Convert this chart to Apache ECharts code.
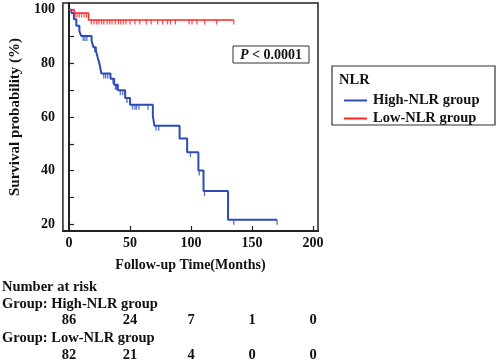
<!DOCTYPE html>
<html><head><meta charset="utf-8">
<script src="https://cdn.jsdelivr.net/npm/echarts@6/dist/echarts.min.js"></script>
<style>html,body{margin:0;padding:0;background:#fff}#c{width:498px;height:361px}</style>
</head><body><div id="c"></div>
<script>
// ---- data ----
const highTimes = [0, 2, 4, 6, 8.5, 10, 18.5, 20, 22, 23.5, 25, 26.5, 34, 37, 40, 46, 50, 68.7, 70, 90.6, 96.8, 106, 110.2, 130.3, 170.5];
const highSurv  = [100, 98.8, 96.4, 94.0, 92.0, 90.2, 88.4, 86.0, 84.8, 82.2, 79.8, 76.2, 74.3, 72.0, 70.0, 67.1, 64.6, 60.4, 56.7, 52.0, 46.9, 40.1, 32.4, 21.7, 21.7];
const lowTimes  = [0, 4.4, 16, 135];
const lowSurv   = [100, 98.8, 96.2, 96.2];
const highCensor = [11.6, 13, 14.6, 21, 28.5, 30, 31.7, 36, 38, 39, 42, 44, 47.5, 52, 54, 55.3, 57.4, 64.7, 71.3, 73.5, 99.5, 106.7, 111, 135, 170.5];
const lowCensor  = [5, 6.6, 8.4, 10.3, 12.4, 14.3, 18.3, 20.5, 22.6, 24.5, 26.7, 28.5, 31.2, 33.3, 35.2, 37.9, 40.6, 42.4, 44.6, 46.7, 50, 54, 58, 63.3, 67.3, 72.7, 76.7, 80.7, 83.1, 87.1, 98.4, 100.8, 104.8, 111.2, 120.9, 135];
const riskTimes = [0, 50, 100, 150, 200];
const riskHigh  = [86, 24, 7, 1, 0];
const riskLow   = [82, 21, 4, 0, 0];
const xTicks = [0, 50, 100, 150, 200];
const yTicks = [20, 30, 40, 50, 60, 70, 80, 90, 100];
const yLabels = [20, 40, 60, 80, 100];
const groupNames = ['High-NLR group', 'Low-NLR group'];

// ---- helpers ----
function stepAt(times, surv, t) {
  let s = surv[0];
  for (let i = 0; i < times.length; i++) { if (times[i] <= t) s = surv[i]; }
  return s;
}
const FONT = "'Liberation Serif','Times New Roman',serif";
const BLUE = '#2a4cb4', RED = '#ff2626', INK = '#111';

const chart = echarts.init(document.getElementById('c'), null, {renderer: 'canvas'});
const option = {
  animation: false,
  backgroundColor: '#fff',
  grid: {left: 58, top: 3, right: 180, bottom: 130, show: true, borderColor: '#222', borderWidth: 1.5, backgroundColor: 'transparent'},
  xAxis: {
    type: 'value', min: -5, max: 204,
    name: 'Follow-up Time(Months)', nameLocation: 'middle', nameGap: 27,
    nameTextStyle: {fontFamily: FONT, fontWeight: 'bold', fontSize: 14, color: INK},
    axisLine: {show: true, lineStyle: {color: '#222', width: 2}},
    axisTick: {show: true, inside: true, length: 5, customValues: xTicks, lineStyle: {color: '#222', width: 1.2}},
    axisLabel: {customValues: xTicks, margin: 5, fontFamily: FONT, fontWeight: 'bold', fontSize: 14, color: INK},
    splitLine: {show: false}
  },
  yAxis: {
    type: 'value', min: 17.5, max: 102.5,
    name: 'Survival probability (%)', nameLocation: 'middle', nameGap: 37,
    nameTextStyle: {fontFamily: FONT, fontWeight: 'bold', fontSize: 15, color: INK},
    axisLine: {show: true, lineStyle: {color: '#222', width: 2}},
    axisTick: {show: true, inside: true, length: 5, customValues: yTicks, lineStyle: {color: '#222', width: 1.2}},
    axisLabel: {customValues: yLabels, margin: 8, fontFamily: FONT, fontWeight: 'bold', fontSize: 14, color: INK},
    splitLine: {show: false}
  },
  legend: {
    orient: 'vertical', left: 339, top: 88, itemWidth: 23, itemHeight: 2, itemGap: 3, icon: 'rect',
    data: groupNames,
    textStyle: {fontFamily: FONT, fontWeight: 'bold', fontSize: 14.5, color: INK, lineHeight: 14, padding: [0, 0, 0, 1]}
  },
  series: [
    {name: groupNames[0], type: 'line', step: 'end', showSymbol: false, color: BLUE,
     lineStyle: {color: BLUE, width: 2}, data: highTimes.map((t, i) => [t, highSurv[i]]), z: 3},
    {name: groupNames[1], type: 'line', step: 'end', showSymbol: false, color: RED,
     lineStyle: {color: RED, width: 1.5}, data: lowTimes.map((t, i) => [t, lowSurv[i]]), z: 4},
    {name: 'High censored', type: 'scatter', symbol: 'rect', symbolSize: [1.3, 5], symbolOffset: [0, 2.5],
     itemStyle: {color: BLUE}, data: highCensor.map(t => [t, stepAt(highTimes, highSurv, t)]), z: 3},
    {name: 'Low censored', type: 'scatter', symbol: 'rect', symbolSize: [1.3, 4.5], symbolOffset: [0, 2.3],
     itemStyle: {color: RED}, data: lowCensor.map(t => [t, stepAt(lowTimes, lowSurv, t)]), z: 4}
  ]
};
chart.setOption(option);

const bold = (s) => 'bold ' + s + 'px ' + FONT;
const g = [
  {type: 'rect', shape: {x: 233, y: 46, width: 76, height: 17}, style: {fill: '#fff', stroke: '#333', lineWidth: 1}, z: 10},
  {type: 'text', x: 271, y: 55, z: 11, style: {
    text: '{i|P} < 0.0001', align: 'center', verticalAlign: 'middle', font: bold(14), fill: INK,
    rich: {i: {fontStyle: 'italic', fontWeight: 'bold', fontFamily: FONT, fontSize: 14, fill: INK}}}},
  {type: 'rect', shape: {x: 332, y: 66, width: 163, height: 59}, style: {fill: 'none', stroke: '#333', lineWidth: 1.2}, z: 10},
  {type: 'text', x: 339, y: 80, z: 11, style: {text: 'NLR', align: 'left', verticalAlign: 'middle', font: bold(14.5), fill: INK}},
  {type: 'text', x: 2, y: 287, style: {text: 'Number at risk', align: 'left', verticalAlign: 'middle', font: bold(14.5), fill: INK}},
  {type: 'text', x: 2, y: 304, style: {text: 'Group: ' + groupNames[0], align: 'left', verticalAlign: 'middle', font: bold(14.5), fill: INK}},
  {type: 'text', x: 2, y: 338, style: {text: 'Group: ' + groupNames[1], align: 'left', verticalAlign: 'middle', font: bold(14.5), fill: INK}}
];
riskTimes.forEach((t, i) => {
  const px = chart.convertToPixel({xAxisIndex: 0}, t);
  g.push({type: 'text', x: px, y: 320, style: {text: String(riskHigh[i]), align: 'center', verticalAlign: 'middle', font: bold(14.5), fill: INK}});
  g.push({type: 'text', x: px, y: 355, style: {text: String(riskLow[i]), align: 'center', verticalAlign: 'middle', font: bold(14.5), fill: INK}});
});
chart.setOption({graphic: g});
</script>
</body></html>
